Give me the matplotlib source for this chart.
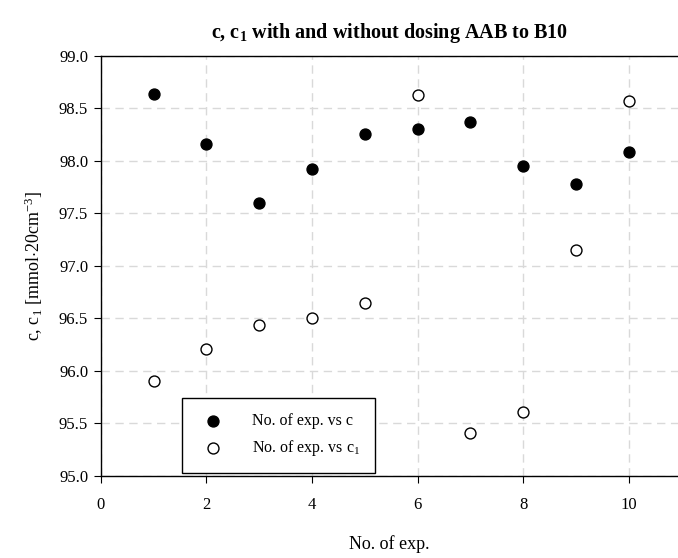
import numpy as np
import matplotlib.pyplot as plt

plt.rcParams['font.family'] = ['Liberation Serif', 'DejaVu Serif']
plt.rcParams['mathtext.fontset'] = 'custom'
plt.rcParams['mathtext.rm'] = 'Liberation Serif'
plt.rcParams['mathtext.it'] = 'Liberation Serif:italic'
plt.rcParams['mathtext.bf'] = 'Liberation Serif:bold'

# data
exp_no = [1, 2, 3, 4, 5, 6, 7, 8, 9, 10]
c = [98.64, 98.16, 97.60, 97.92, 98.26, 98.30, 98.37, 97.95, 97.78, 98.08]
c1 = [95.90, 96.21, 96.44, 96.50, 96.65, 98.63, 95.41, 95.61, 97.15, 98.57]

fig = plt.figure(figsize=(6.78, 5.58), dpi=100)
ax = fig.add_axes([0.1485, 0.147, 0.8515, 0.753])

ax.scatter(exp_no, c, s=62, color='black', zorder=3, label='No. of exp. vs c')
ax.scatter(exp_no, c1, s=62, facecolor='white', edgecolor='black', linewidth=1.0,
           zorder=3, label='No. of exp. vs c$_1$')

ax.set_xlim(0, 10.93)
ax.set_ylim(95.0, 99.0)
ax.set_xticks([0, 2, 4, 6, 8, 10])
ax.set_yticks(np.arange(95.0, 99.01, 0.5))
ax.yaxis.set_major_formatter(plt.FormatStrFormatter('%.1f'))
ax.grid(True, color='#d9d9d9', linestyle=(0, (6, 4)), linewidth=1.0)
ax.set_axisbelow(True)
ax.spines['right'].set_visible(False)
for s in ['left', 'bottom', 'top']:
    ax.spines[s].set_linewidth(1.0)
ax.tick_params(direction='out', length=5, labelsize=12)
ax.tick_params(axis='x', pad=10)
ax.tick_params(axis='y', pad=4)

ax.set_title(r'c, c$_\mathbf{1}$ with and without dosing AAB to B10',
             fontsize=14.5, fontweight='bold', pad=13)
ax.set_xlabel('No. of exp.', fontsize=13, labelpad=16)
ax.set_ylabel(r'c, c$_1$ [mmol$\cdot$20cm$^{-3}$]', fontsize=13, labelpad=10)

leg = ax.legend(loc='lower left', bbox_to_anchor=(0.141, 0.007), borderaxespad=0,
                fontsize=11.5, frameon=True, fancybox=False, edgecolor='black',
                framealpha=1, borderpad=0.95, handletextpad=1.4, labelspacing=0.55)
leg.get_frame().set_linewidth(1.0)

fig.savefig('out.png', dpi=100)
